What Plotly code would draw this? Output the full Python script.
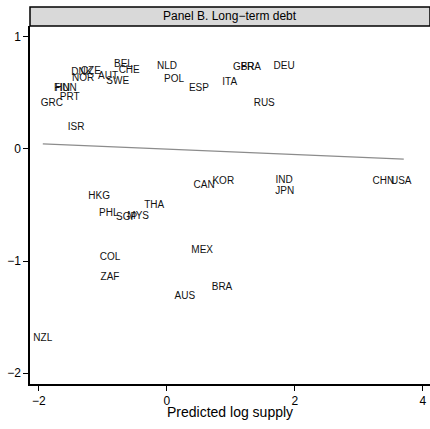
import plotly.graph_objects as go

countries = ["BEL", "CHE", "DNK", "CZE", "NOR", "AUT", "SWE", "FIN", "HUN", "PRT",
             "GRC", "ISR", "NLD", "POL", "ESP", "ITA", "GBR", "FRA", "DEU", "RUS",
             "CAN", "KOR", "HKG", "THA", "PHL", "SGP", "MYS", "MEX", "COL", "IND",
             "JPN", "CHN", "USA", "ZAF", "AUS", "BRA", "NZL"]
pred_supply = [-0.68, -0.59, -1.33, -1.19, -1.31, -0.92, -0.77, -1.64, -1.58, -1.52,
               -1.80, -1.42, 0.00, 0.11, 0.50, 0.98, 1.20, 1.31, 1.83, 1.52,
               0.58, 0.88, -1.06, -0.20, -0.91, -0.63, -0.45, 0.55, -0.89, 1.83,
               1.84, 3.38, 3.66, -0.89, 0.28, 0.86, -1.94]
resid_debt = [0.75, 0.70, 0.68, 0.69, 0.63, 0.65, 0.60, 0.54, 0.54, 0.46,
              0.41, 0.19, 0.74, 0.62, 0.54, 0.59, 0.73, 0.73, 0.74, 0.41,
              -0.33, -0.29, -0.42, -0.50, -0.58, -0.61, -0.60, -0.91, -0.97, -0.28,
              -0.38, -0.29, -0.29, -1.15, -1.32, -1.24, -1.69]

fit_x = [-1.94, 3.70]
fit_y = [0.045, -0.09]

x_ticks = [-2, 0, 2, 4]
y_ticks = [-2, -1, 0, 1]
panel_title = "Panel B. Long\u2212term debt"
x_title = "Predicted log supply"

fig = go.Figure()
fig.add_trace(go.Scatter(x=fit_x, y=fit_y, mode="lines",
                         line=dict(color="#8c8c8c", width=1.2),
                         hoverinfo="skip", showlegend=False))
fig.add_trace(go.Scatter(x=pred_supply, y=resid_debt, mode="text", text=countries,
                         textposition="middle center",
                         textfont=dict(family="Liberation Sans, Arial", size=10, color="#111111"),
                         showlegend=False))

plot_h = 429 - 26 - 45
strip_h = 19

fig.add_shape(type="rect", xref="paper", yref="paper",
              x0=0, x1=1, y0=1, y1=1 + strip_h / plot_h,
              fillcolor="#d9d9d9", line=dict(color="black", width=1.5), layer="above")
fig.add_annotation(xref="paper", yref="paper", x=0.5, y=1 + strip_h / plot_h / 2,
                   text=panel_title, showarrow=False, yanchor="middle",
                   font=dict(family="Liberation Sans, Arial", size=12, color="black"))
fig.add_annotation(xref="paper", yref="paper", x=0.5, y=-28 / plot_h,
                   text=x_title, showarrow=False, yanchor="middle",
                   font=dict(family="Liberation Sans, Arial", size=14, color="black"))

fig.update_layout(
    width=430, height=429,
    margin=dict(l=30, r=0, t=26, b=45, autoexpand=False),
    paper_bgcolor="white", plot_bgcolor="white",
    font=dict(family="Liberation Sans, Arial", size=12, color="black"),
    xaxis=dict(range=[-2.14, 4.11], tickvals=x_ticks, showgrid=False, zeroline=False,
               showline=True, linecolor="black", linewidth=1.5, automargin=False,
               ticks="outside", ticklen=5, tickwidth=1, tickcolor="black",
               tickfont=dict(size=12)),
    yaxis=dict(range=[-2.098, 1.098], tickvals=y_ticks, showgrid=False, zeroline=False,
               showline=True, linecolor="black", linewidth=1.5, automargin=False,
               ticks="outside", ticklen=5, tickwidth=1, tickcolor="black",
               tickfont=dict(size=12)),
)

fig.write_html("out.html", config={"displayModeBar": False},
               post_script="document.body.style.margin='0';document.body.style.overflow='hidden';")
